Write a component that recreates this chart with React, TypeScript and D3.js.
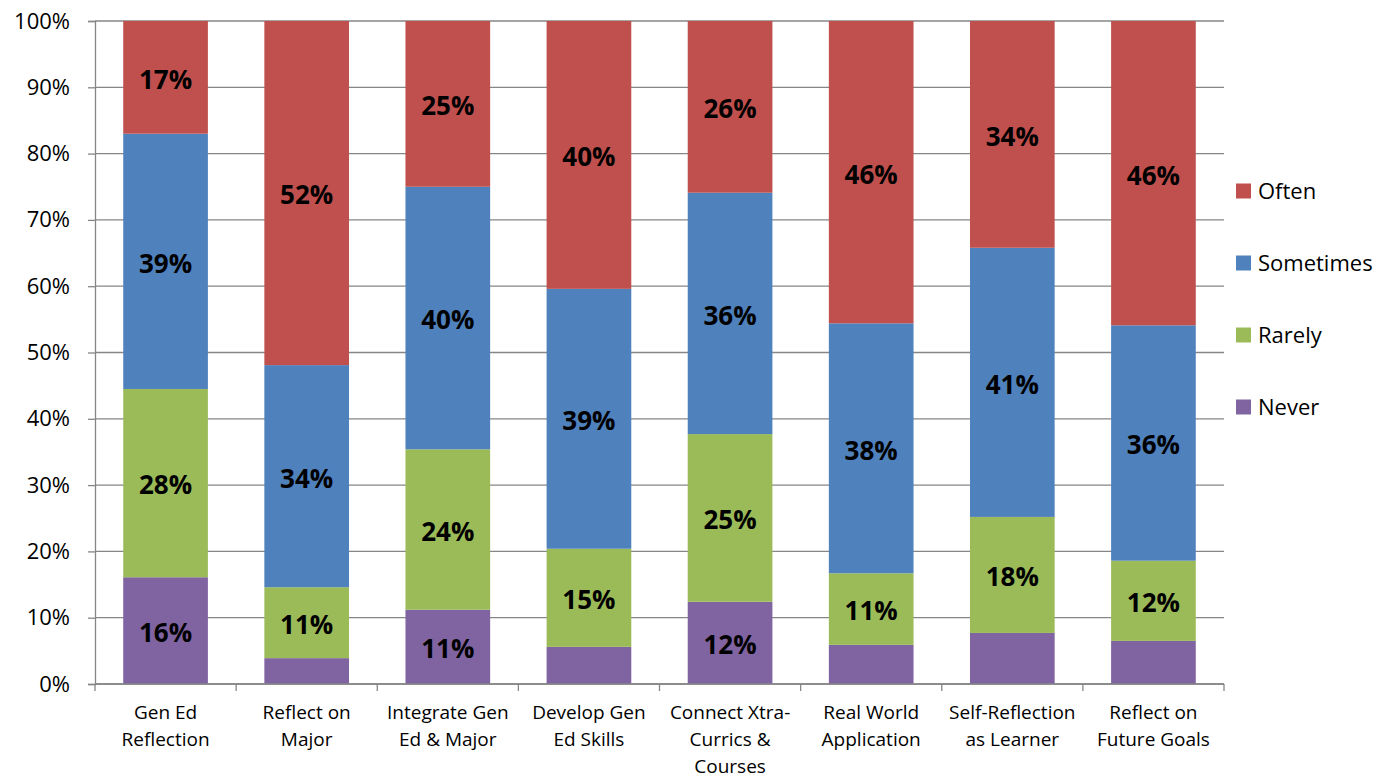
import React, { useEffect, useRef } from 'react';
import * as d3 from 'd3';

const categories = [
  'Gen Ed\nReflection',
  'Reflect on\nMajor',
  'Integrate Gen\nEd & Major',
  'Develop Gen\nEd Skills',
  'Connect Xtra-\nCurrics &\nCourses',
  'Real World\nApplication',
  'Self-Reflection\nas Learner',
  'Reflect on\nFuture Goals',
];

// percentages per series, bottom to top
const never = [16.1, 3.9, 11.2, 5.6, 12.4, 5.9, 7.7, 6.5];
const rarely = [28.4, 10.7, 24.2, 14.8, 25.3, 10.8, 17.5, 12.1];
const sometimes = [38.5, 33.5, 39.6, 39.2, 36.4, 37.7, 40.6, 35.5];
const often = [17.0, 51.9, 25.0, 40.4, 25.9, 45.6, 34.2, 45.9];

const seriesNames = ['Never', 'Rarely', 'Sometimes', 'Often'];
const seriesColors = ['#8064A2', '#9BBB59', '#4F81BD', '#C0504D'];
const yTicks = [0, 10, 20, 30, 40, 50, 60, 70, 80, 90, 100];

const FONT = '"Open Sans", "Liberation Sans", sans-serif';

const App: React.FC = () => {
  const chartRef = useRef<SVGSVGElement | null>(null);

  useEffect(() => {
    const width = 1390;
    const height = 780;
    const margin = { top: 21, right: 166, bottom: 96, left: 95 };

    const svg = d3.select(chartRef.current);
    svg.selectAll('*').remove();
    svg.attr('width', width).attr('height', height);

    const rows = categories.map((c, i) => ({
      key: c,
      Never: never[i],
      Rarely: rarely[i],
      Sometimes: sometimes[i],
      Often: often[i],
    }));

    const stacked = d3.stack<any>().keys(seriesNames)(rows);

    const x = d3
      .scaleBand()
      .domain(categories)
      .range([margin.left, width - margin.right])
      .paddingInner(0.4)
      .paddingOuter(0.2);

    const y = d3
      .scaleLinear()
      .domain([0, 100])
      .range([height - margin.bottom, margin.top]);

    const color = d3.scaleOrdinal<string>().domain(seriesNames).range(seriesColors);

    // gridlines
    svg
      .append('g')
      .selectAll('line')
      .data(yTicks)
      .join('line')
      .attr('x1', margin.left)
      .attr('x2', width - margin.right)
      .attr('y1', (d) => y(d))
      .attr('y2', (d) => y(d))
      .attr('stroke', '#868686')
      .attr('stroke-width', 1.3);

    // bars
    const layer = svg
      .append('g')
      .selectAll('g')
      .data(stacked)
      .join('g')
      .attr('fill', (d) => color(d.key));

    layer
      .selectAll('rect')
      .data((d) => d)
      .join('rect')
      .attr('x', (d: any) => x(d.data.key)!)
      .attr('y', (d) => y(d[1]))
      .attr('width', x.bandwidth())
      .attr('height', (d) => y(d[0]) - y(d[1]));

    // data labels (small segments left unlabelled)
    layer
      .selectAll('text')
      .data((d) => d.filter((s) => s[1] - s[0] >= 9.5))
      .join('text')
      .attr('x', (d: any) => x(d.data.key)! + x.bandwidth() / 2)
      .attr('y', (d) => y((d[0] + d[1]) / 2) + 2)
      .attr('dy', '0.36em')
      .attr('text-anchor', 'middle')
      .style('font-family', FONT)
      .style('font-weight', 'bold')
      .style('font-size', '26px')
      .style('fill', '#000')
      .text((d) => `${Math.round(d[1] - d[0])}%`);

    // y axis
    const yAxis = svg
      .append('g')
      .attr('transform', `translate(${margin.left},0)`)
      .call(
        d3
          .axisLeft(y)
          .tickValues(yTicks)
          .tickSize(7)
          .tickPadding(18)
          .tickFormat((d) => `${d}%`)
      );
    yAxis.selectAll('.domain').attr('stroke', '#868686').attr('stroke-width', 1.3);
    yAxis.selectAll('.tick line').attr('stroke', '#868686').attr('stroke-width', 1.3);
    yAxis
      .selectAll('.tick text')
      .style('font-family', FONT)
      .style('font-size', '22px')
      .style('fill', '#000');

    // x axis
    const base = y(0);
    const xAxis = svg.append('g');
    xAxis
      .append('line')
      .attr('x1', margin.left)
      .attr('x2', width - margin.right)
      .attr('y1', base)
      .attr('y2', base)
      .attr('stroke', '#868686')
      .attr('stroke-width', 1.3);
    const bounds = d3.range(categories.length + 1).map((i) => margin.left + i * x.step());
    xAxis
      .selectAll('line.tk')
      .data(bounds)
      .join('line')
      .attr('class', 'tk')
      .attr('x1', (d) => d)
      .attr('x2', (d) => d)
      .attr('y1', base)
      .attr('y2', base + 7)
      .attr('stroke', '#868686')
      .attr('stroke-width', 1.3);

    const xl = xAxis
      .selectAll('text')
      .data(categories)
      .join('text')
      .attr('x', (d) => x(d)! + x.bandwidth() / 2)
      .attr('y', base + 35)
      .attr('text-anchor', 'middle')
      .style('font-family', FONT)
      .style('font-size', '19px')
      .style('fill', '#000');
    xl.selectAll('tspan')
      .data((d) => d.split('\n'))
      .join('tspan')
      .attr('x', function () {
        return (this as any).parentNode.getAttribute('x');
      })
      .attr('dy', (_d, i) => (i === 0 ? 0 : 27))
      .text((d) => d);

    // legend, top to bottom: Often, Sometimes, Rarely, Never
    const legendItems = seriesNames.slice().reverse();
    const legend = svg
      .append('g')
      .selectAll('g')
      .data(legendItems)
      .join('g')
      .attr('transform', (_d, i) => `translate(1236,${191 + i * 72})`);
    legend
      .append('rect')
      .attr('x', 0)
      .attr('y', -7.5)
      .attr('width', 15)
      .attr('height', 15)
      .attr('fill', (d) => color(d));
    legend
      .append('text')
      .attr('x', 22)
      .attr('dy', '0.36em')
      .style('font-family', FONT)
      .style('font-size', '22px')
      .style('fill', '#000')
      .text((d) => d);
  }, []);

  return (
    <svg
      ref={chartRef}
      style={{ position: 'absolute', left: 0, top: 0, background: '#fff' }}
    ></svg>
  );
};

export default App;
